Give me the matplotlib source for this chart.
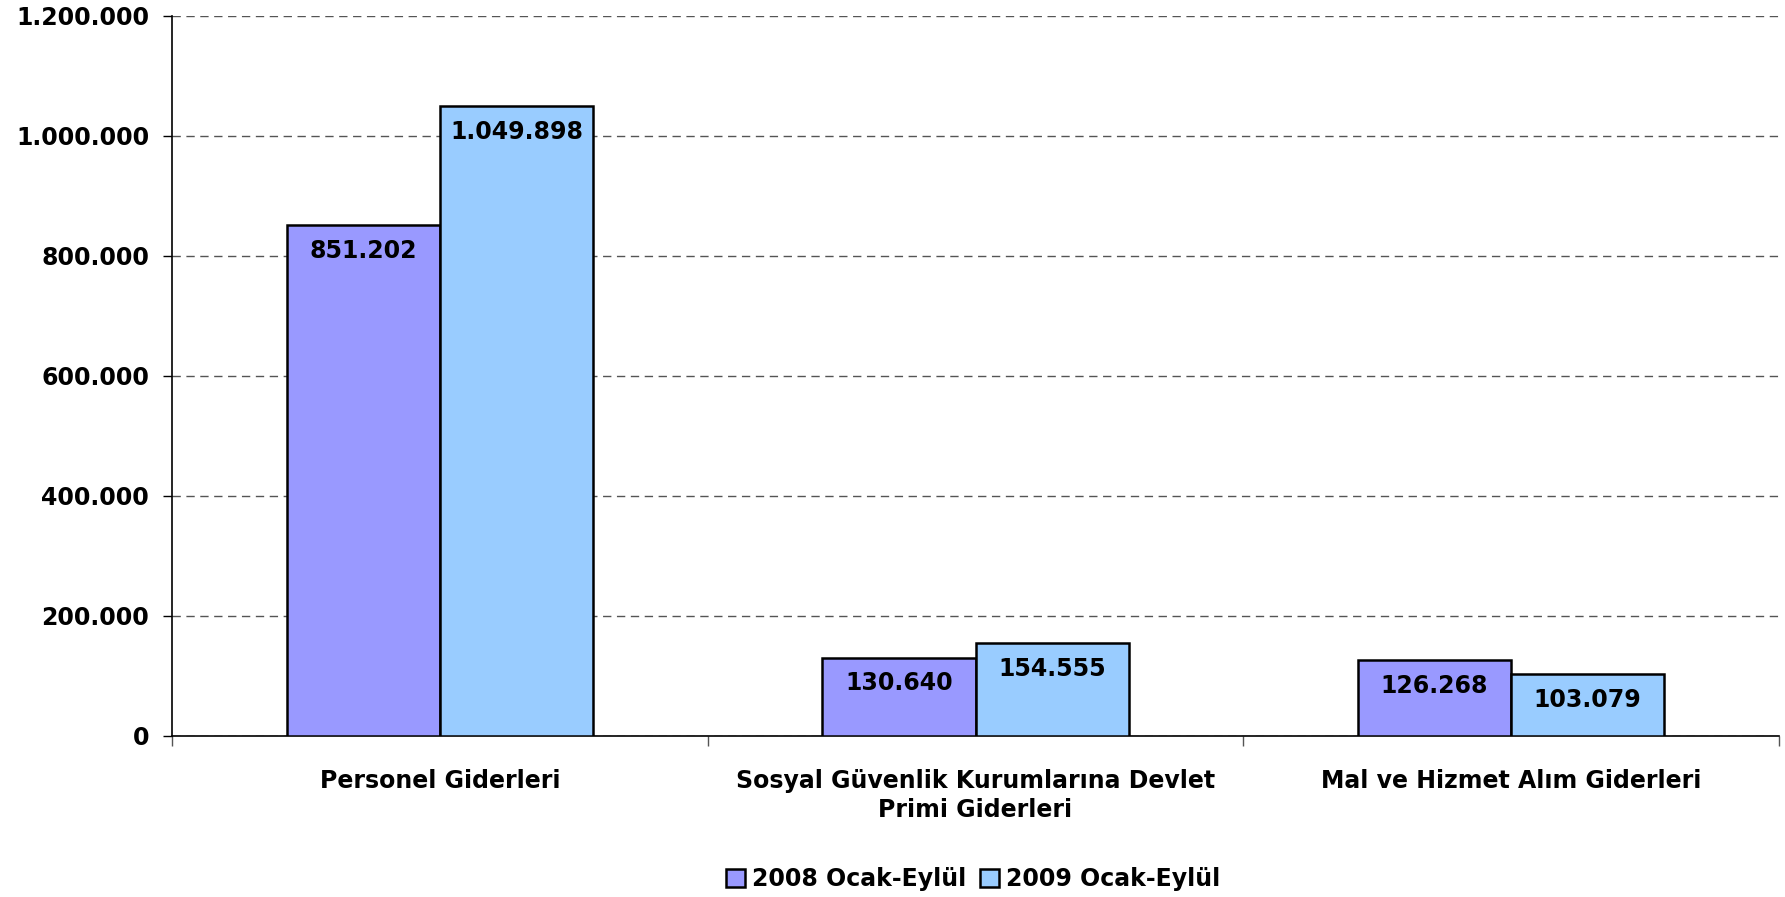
import matplotlib.pyplot as plt
import numpy as np
from matplotlib.ticker import FuncFormatter

categories = ['Personel Giderleri',
              'Sosyal Güvenlik Kurumlarına Devlet\nPrimi Giderleri',
              'Mal ve Hizmet Alım Giderleri']
series_names = ['2008 Ocak-Eylül', '2009 Ocak-Eylül']
values_2008 = [851202, 130640, 126268]
values_2009 = [1049898, 154555, 103079]
colors = ['#9999FF', '#99CCFF']

plt.rcParams['font.family'] = 'DejaVu Sans'
plt.rcParams['font.weight'] = 'bold'
plt.rcParams['font.size'] = 17


def tr_format(v):
    return f'{v:,.0f}'.replace(',', '.')


fig = plt.figure(figsize=(17.85, 8.97), dpi=100)
ax = fig.add_axes([0.0964, 0.1795, 0.9002, 0.8027])

x = np.arange(len(categories))
w = 1 / 3.5
bars = []
for i, (vals, name) in enumerate(zip([values_2008, values_2009], series_names)):
    b = ax.bar(x + (i - 0.5) * w, vals, width=w, color=colors[i],
               edgecolor='black', linewidth=1.8, label=name, zorder=3)
    bars.append(b)
    for rect, v in zip(b, vals):
        ax.annotate(tr_format(v), (rect.get_x() + rect.get_width() / 2, v),
                    xytext=(0, -10), textcoords='offset points',
                    ha='center', va='top', fontsize=17, fontweight='bold',
                    zorder=4)

ax.set_xlim(-0.5, 2.5)
ax.set_ylim(0, 1200000)
ax.set_yticks(np.arange(0, 1200001, 200000))
ax.yaxis.set_major_formatter(FuncFormatter(lambda v, p: tr_format(v)))
ax.tick_params(axis='y', direction='out', length=6.5, width=1, pad=10,
               labelsize=17)

# category boundaries get the tick marks, centres carry the labels
ax.set_xticks(np.arange(-0.5, 2.51, 1))
ax.set_xticklabels([])
ax.set_xticks(x, minor=True)
ax.set_xticklabels(categories, minor=True, fontsize=17, fontweight='bold',
                   linespacing=1.25)
ax.tick_params(axis='x', which='major', direction='out', length=7, width=1,
               color='#555555')
ax.tick_params(axis='x', which='minor', length=0, pad=24)

ax.yaxis.grid(True, color='#555555', linestyle=(0, (6, 4)), linewidth=1,
              zorder=0)
ax.set_axisbelow(True)
for s in ['top', 'right']:
    ax.spines[s].set_visible(False)
for s in ['left', 'bottom']:
    ax.spines[s].set_linewidth(1.2)

fig.legend(handles=bars, labels=series_names, loc='center',
           bbox_to_anchor=(973 / 1785, 1 - 879 / 897), ncol=2, frameon=False,
           handlelength=0.8, handleheight=0.8, handletextpad=0.3,
           columnspacing=0.6, fontsize=17, borderaxespad=0)

fig.savefig('out.png', dpi=100)
